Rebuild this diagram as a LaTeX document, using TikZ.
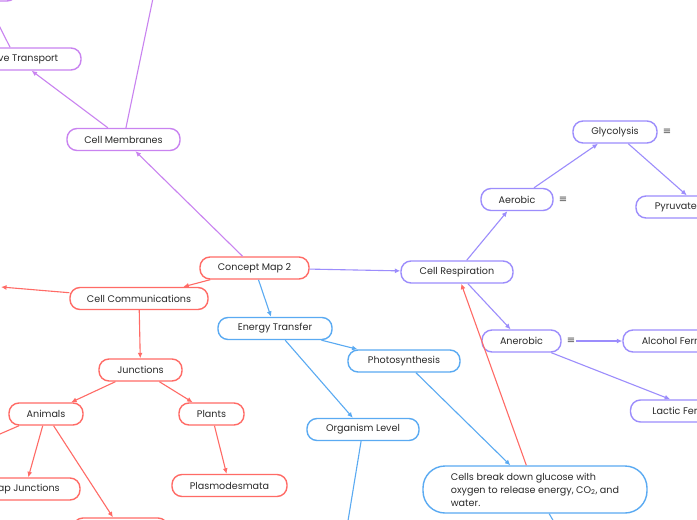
\documentclass[tikz,border=0pt]{standalone}
\usepackage{fontspec}
\setmainfont{Poppins}
\newfontfamily\symfont{DejaVu Sans}
\usetikzlibrary{arrows.meta, positioning}

\definecolor{mapred}{HTML}{FF6B66}
\definecolor{mapblue}{HTML}{5AAAF2}
\definecolor{mappurple}{HTML}{C983F0}
\definecolor{mapviolet}{HTML}{9C8DFC}
\definecolor{maptext}{HTML}{2A2A2A}

\begin{document}
\begin{tikzpicture}[
  x=1pt, y=-1pt,
  every node/.style={font=\fontsize{9.6}{13}\selectfont, text=maptext},
  mapnode/.style={draw, line width=1.4pt, fill=white, rounded corners=10pt, minimum height=22pt, inner sep=2pt},
  rednode/.style={mapnode, draw=mapred},
  bluenode/.style={mapnode, draw=mapblue},
  purplenode/.style={mapnode, draw=mappurple},
  violetnode/.style={mapnode, draw=mapviolet},
  link/.style={line width=1.1pt, -{Latex[length=5.5pt, width=5pt]}},
  notes/.style={font=\symfont\fontsize{10}{10}\selectfont, text=black!70, inner sep=1pt}
]

\useasboundingbox (0,0) rectangle (697,520);
\clip (0,0) rectangle (697,520);
\fill[white] (0,0) rectangle (697,520);

% root
\node[rednode, minimum width=109pt] (cm2) at (254.5,268) {Concept Map 2};

% BRANCH 1: cell membranes
\node[purplenode, minimum width=113pt] (memb) at (123.5,139.5) {Cell Membranes};
\node[purplenode, minimum width=130pt] (trans) at (16,59) {Passive Transport};
\node[purplenode, minimum width=72pt] (ttop) at (-19,-10) {};
\coordinate (mtop) at (161,-40);

\draw[link, mappurple] (cm2) -- (memb);
\draw[link, mappurple] (memb) -- (trans);
\draw[link, mappurple] (memb) -- (mtop);
\draw[link, mappurple] (trans) -- (ttop);

% BRANCH 2: cell communications
\node[rednode, minimum width=138pt] (comm) at (139,298.5) {Cell Communications};
\node[rednode, minimum width=83pt] (junc) at (140.5,370) {Junctions};
\node[rednode, minimum width=74pt] (anim) at (46,414) {Animals};
\node[rednode, minimum width=110pt] (gap) at (25,489) {Gap Junctions};
\node[rednode, minimum width=95pt] (desmo) at (120.5,529) {Desmosomes};
\node[rednode, minimum width=65pt] (plant) at (211.5,414) {Plants};
\node[rednode, minimum width=115pt] (plasmo) at (229.5,485.5) {Plasmodesmata};
\coordinate (cleft) at (1,287);
\coordinate (aleft) at (-30,447);

\draw[link, mapred] (cm2) -- (comm);
\draw[link, mapred] (comm) -- (cleft);
\draw[link, mapred] (comm) -- (junc);
\draw[link, mapred] (junc) -- (anim);
\draw[link, mapred] (junc) -- (plant);
\draw[link, mapred] (plant) -- (plasmo);
\draw[link, mapred] (anim) -- (aleft);
\draw[link, mapred] (anim) -- (gap);
\draw[link, mapred] (anim) -- (desmo);

% BRANCH 3: energy transfer
\node[bluenode, minimum width=114pt] (energy) at (275,328.5) {Energy Transfer};
\node[bluenode, minimum width=112pt] (photo) at (404,361) {Photosynthesis};
\node[bluenode, minimum width=112pt] (organ) at (363,429.5) {Organism Level};
\node[bluenode, rounded corners=22pt, minimum width=224pt, minimum height=47pt, align=left] (breakdown) at (535,489.5)
  {Cells break down glucose with\\oxygen to release energy, CO\textsubscript{2}, and\\water.};
\coordinate (odown) at (335,600);
\coordinate (bdown) at (588,580);

\draw[link, mapblue] (cm2) -- (energy);
\draw[link, mapblue] (energy) -- (photo);
\draw[link, mapblue] (energy) -- (organ);
\draw[link, mapblue] (photo) -- (breakdown);
\draw[link, mapblue] (organ) -- (odown);
\draw[link, mapblue] (breakdown) -- (bdown);

% BRANCH 4: cell respiration
\node[violetnode, minimum width=112pt] (resp) at (457,272) {Cell Respiration};
\node[violetnode, minimum width=72pt] (aer) at (517,199.5) {Aerobic};
\node[violetnode, minimum width=128pt] (pyru) at (700,207) {Pyruvate Oxidation};
\node[violetnode, minimum width=84pt] (glyco) at (615,132) {Glycolysis};
\node[violetnode, minimum width=79pt] (anaer) at (521.5,341) {Anerobic};
\node[violetnode, minimum width=140pt] (alco) at (693,341) {Alcohol Fermentation};
\node[violetnode, minimum width=139pt] (lactic) at (700,411) {Lactic Fermentation};
\node[notes, right=4pt of aer] (aernote) {≡};
\node[notes, right=4pt of glyco] (glyconote) {≡};
\node[notes, right=4pt of anaer] (anaernote) {≡};

\draw[link, mapviolet] (cm2) -- (resp);
\draw[link, mapviolet] (resp) -- (aer);
\draw[link, mapviolet] (aer) -- (glyco);
\draw[link, mapviolet] (glyco) -- (pyru);
\draw[link, mapviolet] (resp) -- (anaer);
\draw[link, mapviolet] (anaernote) -- (alco);
\draw[link, mapviolet] (anaer) -- (lactic);

% back link to respiration
\draw[link, mapred] (breakdown) -- (resp);

\end{tikzpicture}
\end{document}
